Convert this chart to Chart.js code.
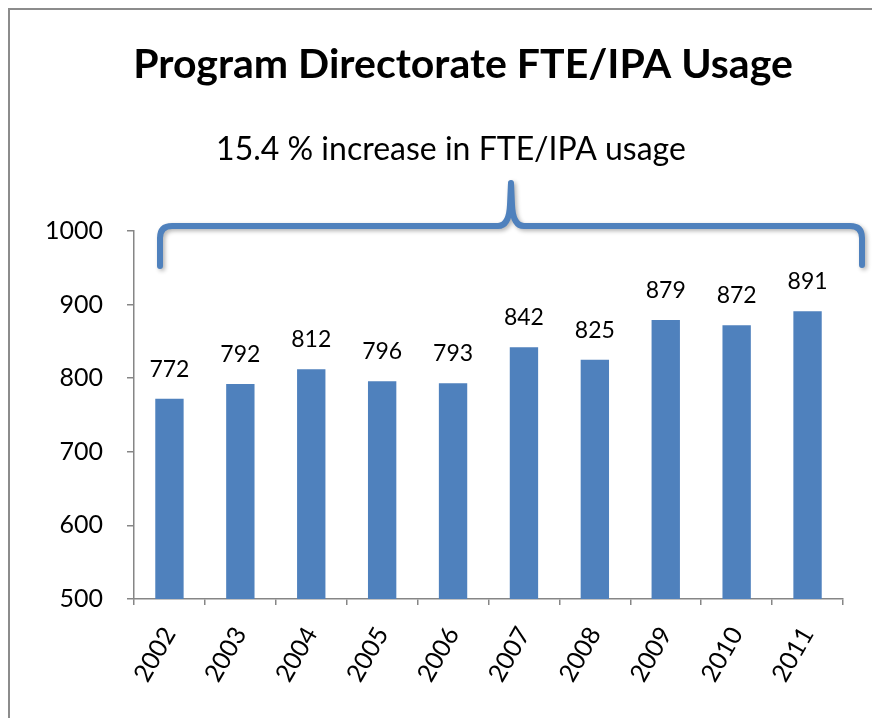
<!DOCTYPE html>
<html>
<head>
<meta charset="utf-8">
<script src="https://cdn.jsdelivr.net/npm/chart.js@4.4.1/dist/chart.umd.min.js"></script>
<style>
    html, body { margin: 0; padding: 0; background: #fff; overflow: hidden; }
    #wrap { position: relative; width: 872px; height: 718px; }
</style>
</head>
<body>
<div id="wrap"><canvas id="usageChart" width="872" height="718"></canvas></div>
<script>
const years = ['2002', '2003', '2004', '2005', '2006', '2007', '2008', '2009', '2010', '2011'];
const fteUsage = [772, 792, 812, 796, 793, 842, 825, 879, 872, 891];
const yTickValues = [500, 600, 700, 800, 900, 1000];
const chartTitle = 'Program Directorate FTE/IPA Usage';
const increaseNote = '15.4 % increase in FTE/IPA usage';

const BAR_BLUE = '#4F81BD';
const AXIS_GREY = '#868686';
const FONT = 'Lato, "Open Sans", sans-serif';

// frame, title, note and the brace over the bars
const decorPlugin = {
    id: 'decor',
    beforeDraw(chart) {
        const ctx = chart.ctx;
        ctx.save();
        ctx.fillStyle = '#fff';
        ctx.fillRect(0, 0, chart.width, chart.height);
        ctx.strokeStyle = '#8c8c8c';
        ctx.lineWidth = 2;
        ctx.beginPath();
        ctx.moveTo(9, chart.height);
        ctx.lineTo(9, 9);
        ctx.lineTo(chart.width, 9);
        ctx.stroke();

        ctx.fillStyle = '#000';
        ctx.textAlign = 'center';
        ctx.textBaseline = 'alphabetic';
        ctx.font = 'bold 41px ' + FONT;
        ctx.fillText(chartTitle, 463, 78);
        ctx.font = '32px ' + FONT;
        ctx.fillText(increaseNote, 451, 160);

        // curly brace
        ctx.strokeStyle = BAR_BLUE;
        ctx.lineWidth = 6;
        ctx.lineCap = 'round';
        ctx.lineJoin = 'round';
        ctx.shadowColor = 'rgba(0,0,0,0.3)';
        ctx.shadowBlur = 4;
        ctx.shadowOffsetX = 2;
        ctx.shadowOffsetY = 2;
        ctx.beginPath();
        ctx.moveTo(160, 266);
        ctx.lineTo(160, 238);
        ctx.quadraticCurveTo(160, 226, 172, 226);
        ctx.lineTo(498, 226);
        ctx.quadraticCurveTo(509, 226, 510, 205);
        ctx.lineTo(511, 183);
        ctx.lineTo(512, 205);
        ctx.quadraticCurveTo(513, 226, 524, 226);
        ctx.lineTo(850, 226);
        ctx.quadraticCurveTo(862, 226, 862, 238);
        ctx.lineTo(862, 265);
        ctx.stroke();
        ctx.restore();
    },
    afterDatasetsDraw(chart) {
        const ctx = chart.ctx;
        const meta = chart.getDatasetMeta(0);
        ctx.save();
        ctx.fillStyle = '#000';
        ctx.font = '23px ' + FONT;
        ctx.textAlign = 'center';
        ctx.textBaseline = 'alphabetic';
        meta.data.forEach((bar, i) => {
            ctx.fillText(String(fteUsage[i]), bar.x, bar.y - 22);
        });
        ctx.restore();
    }
};

new Chart(document.getElementById('usageChart'), {
    type: 'bar',
    data: {
        labels: years,
        datasets: [{
            label: 'FTE/IPA Usage',
            data: fteUsage,
            backgroundColor: BAR_BLUE,
            borderWidth: 0,
            categoryPercentage: 1,
            barPercentage: 0.4
        }]
    },
    options: {
        responsive: false,
        animation: false,
        layout: { padding: { top: 231, right: 29, left: 0, bottom: 0 } },
        plugins: {
            legend: { display: false },
            tooltip: { enabled: false }
        },
        scales: {
            y: {
                min: yTickValues[0],
                max: yTickValues[yTickValues.length - 1],
                afterBuildTicks(scale) {
                    scale.ticks = yTickValues.map(v => ({ value: v }));
                },
                afterFit(scale) { scale.width = 134; },
                border: { color: AXIS_GREY, width: 1.5 },
                grid: { drawOnChartArea: false, color: AXIS_GREY, tickLength: 7, lineWidth: 1.5 },
                ticks: {
                    color: '#000',
                    font: { family: FONT, size: 25 },
                    padding: 24,
                    callback: v => String(v)
                }
            },
            x: {
                afterFit(scale) { scale.height = 119; },
                border: { color: AXIS_GREY, width: 1.5 },
                grid: { drawOnChartArea: false, color: AXIS_GREY, tickLength: 6, lineWidth: 1.5, offset: true },
                ticks: {
                    color: '#000',
                    font: { family: FONT, size: 25 },
                    minRotation: 60,
                    maxRotation: 60,
                    padding: 17
                }
            }
        }
    },
    plugins: [decorPlugin]
});
</script>
</body>
</html>
